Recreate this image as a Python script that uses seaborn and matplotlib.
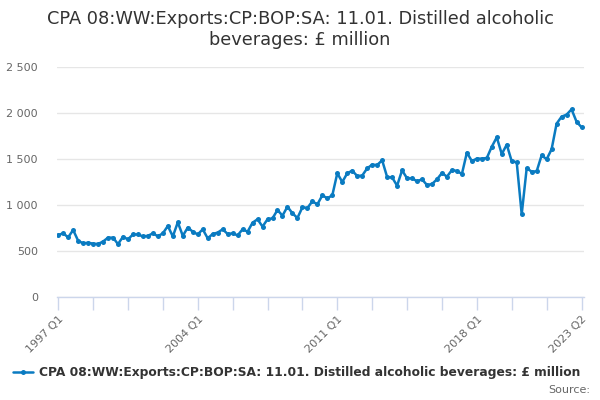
import matplotlib
matplotlib.use("Agg")
import matplotlib.pyplot as plt
import seaborn as sns
import pandas as pd

# quarterly values, 1997 Q1 .. 2023 Q2
values = [
    674, 692, 649, 728, 612, 583, 590, 580, 576, 603, 645, 645, 575, 655,
    627, 680, 680, 658, 665, 692, 660, 692, 772, 658, 812, 665, 755, 710,
    680, 736, 638, 685, 700, 736, 685, 692, 670, 736, 710, 808, 845, 765,
    845, 855, 946, 884, 982, 910, 859, 975, 968, 1040, 1007, 1105, 1073, 1105,
    1345, 1250, 1345, 1373, 1315, 1320, 1399, 1438, 1435, 1486, 1304, 1300,
    1210, 1377, 1290, 1290, 1258, 1279, 1217, 1228, 1279, 1348, 1308, 1380,
    1370, 1337, 1569, 1478, 1504, 1504, 1511, 1634, 1736, 1554, 1656, 1475,
    1464, 899, 1399, 1363, 1366, 1540, 1497, 1606, 1884, 1960, 1982, 2040,
    1906, 1845,
]
periods = [f"{y} Q{q}" for y in range(1997, 2024) for q in range(1, 5)][:len(values)]
label_periods = ["1997 Q1", "2004 Q1", "2011 Q1", "2018 Q1", "2023 Q2"]
y_ticks = [0, 500, 1000, 1500, 2000, 2500]
series_name = "CPA 08:WW:Exports:CP:BOP:SA: 11.01. Distilled alcoholic beverages: £ million"
title = "CPA 08:WW:Exports:CP:BOP:SA: 11.01. Distilled alcoholic\nbeverages: £ million"

df = pd.DataFrame({"idx": range(len(values)), "period": periods, "value": values})

sns.set_style("white")
plt.rcParams["font.family"] = ["DejaVu Sans"]

blue = "#0a7bc1"
fig = plt.figure(figsize=(6, 4), dpi=100)
ax = fig.add_axes([56.7 / 600, 103 / 400, (584 - 56.7) / 600, 230 / 400])

sns.lineplot(data=df, x="idx", y="value", ax=ax, color=blue, linewidth=1.8,
             marker="o", markersize=3.6, markeredgewidth=0, label=series_name)

ax.set_xlim(-0.3, 105.5)
ax.set_ylim(0, 2500)
ax.set_yticks(y_ticks)
ax.set_yticklabels([f"{v:,}".replace(",", " ") for v in y_ticks])
ax.yaxis.grid(True, color="#e6e6e6", linewidth=1)
ax.set_xlabel("")
ax.set_ylabel("")

tick_pos = list(range(0, len(values), 7))
ax.set_xticks(tick_pos)
ax.set_xticklabels([periods[i] if periods[i] in label_periods else "" for i in tick_pos],
                   rotation=45, ha="right", rotation_mode="anchor")
ax.tick_params(axis="x", bottom=True, colors="#ccd6eb", length=9, width=1, direction="out",
               labelcolor="#666666", labelsize=8, pad=3)
ax.tick_params(axis="y", left=False, labelcolor="#666666", labelsize=8, pad=10)

for s in ["top", "right", "left"]:
    ax.spines[s].set_visible(False)
ax.spines["bottom"].set_color("#ccd6eb")
ax.spines["bottom"].set_linewidth(1)

fig.suptitle(title, x=0.5, y=0.975, fontsize=12.8, color="#333333", linespacing=1.2)

leg = ax.legend(loc="center", bbox_to_anchor=(0.495, 0.068), bbox_transform=fig.transFigure,
                frameon=False, fontsize=8.8, handlelength=1.6, handletextpad=0.5)
for t in leg.get_texts():
    t.set_fontweight("bold")
    t.set_color("#333333")
fig.text(0.983, 0.025, "Source:", ha="right", va="center", fontsize=8, color="#666666")

fig.savefig("out.png", dpi=100)
